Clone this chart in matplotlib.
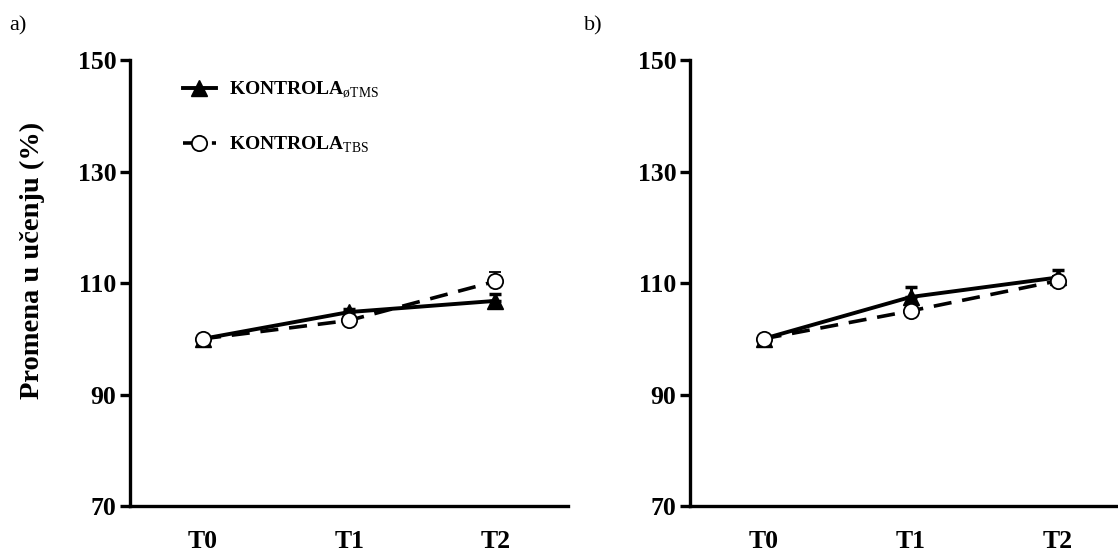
import numpy as np
import matplotlib
matplotlib.use("Agg")
import matplotlib.pyplot as plt
from matplotlib.lines import Line2D

plt.rcParams['font.family'] = ['Liberation Serif', 'DejaVu Serif']
plt.rcParams['mathtext.fontset'] = 'custom'
plt.rcParams['mathtext.rm'] = 'Liberation Serif'
plt.rcParams['mathtext.bf'] = 'Liberation Serif:bold'

# ------------------------------------------------------------
# DATA
# ------------------------------------------------------------
categories = ["T0", "T1", "T2"]

a_tms = [100.0, 104.8, 106.8]
a_tms_err = [0.0, 0.6, 1.2]
a_tbs = [100.0, 103.3, 110.3]
a_tbs_err = [0.0, 0.5, 1.6]

b_tms = [100.0, 107.5, 111.0]
b_tms_err = [0.0, 1.8, 1.4]
b_tbs = [100.0, 105.0, 110.4]
b_tbs_err = [0.0, 0.6, 0.8]

yticks = [70, 90, 110, 130, 150]
label_tms = r"KONTROLA$_{\mathrm{øTMS}}$"
label_tbs = r"KONTROLA$_{\mathrm{TBS}}$"

TMS_STYLE = dict(color="black", linewidth=2.8, marker="^", markersize=11,
                 markerfacecolor="black", markeredgecolor="black")
TBS_STYLE = dict(color="black", linewidth=2.6, dashes=(5, 3), marker="o",
                 markersize=11, markerfacecolor="white",
                 markeredgecolor="black", markeredgewidth=1.3)


# ------------------------------------------------------------
# PLOT
# ------------------------------------------------------------
def draw_panel(ax, tms, tms_err, tbs, tbs_err, xmax):
    x = np.arange(len(categories))
    ax.errorbar(x, tms, yerr=[np.zeros(3), tms_err], elinewidth=2.2,
                capsize=4, capthick=2.5, zorder=3, **TMS_STYLE)
    ax.errorbar(x, tbs, yerr=[np.zeros(3), tbs_err], elinewidth=2.2,
                capsize=4, capthick=2.5, zorder=4, **TBS_STYLE)

    ax.set_xlim(-0.5, xmax)
    ax.set_ylim(70, 150)
    ax.set_yticks(yticks)
    ax.set_xticks(x)
    ax.set_xticklabels(categories)
    for s in ["top", "right"]:
        ax.spines[s].set_visible(False)
    for s in ["left", "bottom"]:
        ax.spines[s].set_linewidth(2.4)
    ax.tick_params(axis="y", direction="out", length=7, width=2.4,
                   labelsize=18.5, pad=3)
    ax.tick_params(axis="x", length=0, labelsize=18.5, pad=17)
    for lab in ax.get_xticklabels() + ax.get_yticklabels():
        lab.set_fontweight("bold")


fig = plt.figure(figsize=(11.18, 5.56), dpi=100)
ax1 = fig.add_axes([0.1163, 0.0899, 0.392, 0.802])
ax2 = fig.add_axes([0.6172, 0.0899, 0.3828, 0.802])

draw_panel(ax1, a_tms, a_tms_err, a_tbs, a_tbs_err, 2.5)
draw_panel(ax2, b_tms, b_tms_err, b_tbs, b_tbs_err, 2.41)

ax1.set_ylabel("Promena u učenju (%)", fontsize=20.5, fontweight="bold")
ax1.yaxis.set_label_coords(-0.195, 0.55)

handles = [Line2D([], [], **TMS_STYLE), Line2D([], [], **TBS_STYLE)]
leg = ax1.legend(handles, [label_tms, label_tbs], loc="upper left",
                 bbox_to_anchor=(0.08, 0.995), frameon=False,
                 fontsize=14, handlelength=1.7, handletextpad=0.7,
                 labelspacing=1.75, numpoints=1)
for t in leg.get_texts():
    t.set_fontweight("bold")

fig.text(0.008, 0.945, "a)", fontsize=16)
fig.text(0.522, 0.945, "b)", fontsize=16)

fig.savefig("out.png", dpi=100)
